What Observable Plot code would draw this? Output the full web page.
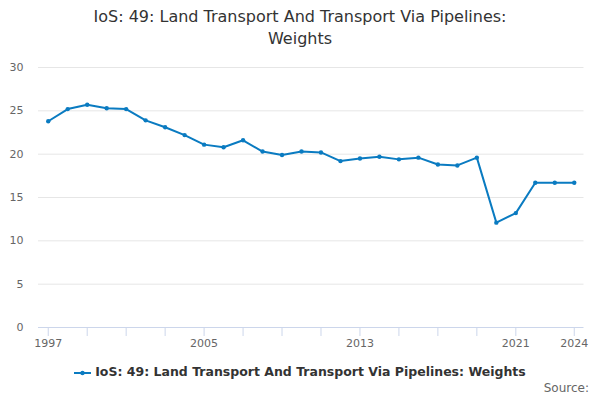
<!DOCTYPE html>
<html>
<head>
<meta charset="utf-8">
<script src="https://cdn.jsdelivr.net/npm/d3@7"></script>
<script src="https://cdn.jsdelivr.net/npm/@observablehq/plot@0.6"></script>
<style>
  body { margin: 0; background: #fff; font-family: "DejaVu Sans", sans-serif; }
  #wrap { position: relative; width: 600px; height: 400px; overflow: hidden; }
  #title { position: absolute; top: 6px; left: 0; width: 600px; text-align: center; font-size: 16px; line-height: 22px; color: #333; }
  #chart { position: absolute; top: 55px; left: 0; }
  #legend { position: absolute; top: 364px; left: 0; width: 600px; text-align: center; font-size: 12.5px; font-weight: bold; color: #333; }
  #legend svg { vertical-align: -1px; margin-right: 4px; }
  #source { position: absolute; top: 381px; right: 11px; font-size: 12px; color: #666; }
</style>
</head>
<body>
<div id="wrap">
  <div id="title">IoS: 49: Land Transport And Transport Via Pipelines:<br>Weights</div>
  <div id="chart"></div>
  <div id="legend"></div>
  <div id="source">Source:</div>
</div>
<script>
const seriesName = "IoS: 49: Land Transport And Transport Via Pipelines: Weights";
const years = [1997,1998,1999,2000,2001,2002,2003,2004,2005,2006,2007,2008,2009,2010,2011,2012,2013,2014,2015,2016,2017,2018,2019,2020,2021,2022,2023,2024];
const values = [23.8,25.2,25.7,25.3,25.2,23.9,23.1,22.2,21.1,20.8,21.6,20.3,19.9,20.3,20.2,19.2,19.5,19.7,19.4,19.6,18.8,18.7,19.6,12.1,13.2,16.7,16.7,16.7];
const xTicks = [1997,1999,2001,2003,2005,2007,2009,2011,2013,2015,2017,2019,2021,2024];
const xLabels = [1997,2005,2013,2021,2024];
const yTicks = [0,5,10,15,20,25,30];
const color = "#0a7bc1";

const data = years.map((y, i) => ({year: y, value: values[i]}));

const plot = Plot.plot({
  width: 600,
  height: 300,
  marginLeft: 38,
  marginRight: 16.5,
  marginTop: 12,
  marginBottom: 28,
  style: {fontFamily: "DejaVu Sans, sans-serif", fontSize: "11px", color: "#666", background: "transparent", overflow: "visible"},
  x: {domain: [1996.5, 2024.5], label: null},
  y: {domain: [0, 30], label: null},
  marks: [
    Plot.ruleY(yTicks.filter(d => d > 0), {stroke: "#e6e6e6", strokeWidth: 1}),
    Plot.axisY(yTicks, {tickSize: 0, tickPadding: 15, fill: "#666", fontSize: 11, label: null}),
    Plot.axisX(xTicks, {tickSize: 9, stroke: "#ccd6eb", strokeOpacity: 1, tickFormat: d => xLabels.includes(d) ? String(d) : "", tickPadding: 3, fill: "#666", fontSize: 11, label: null}),
    Plot.ruleY([0], {stroke: "#ccd6eb", strokeWidth: 1}),
    Plot.line(data, {x: "year", y: "value", stroke: color, strokeWidth: 2}),
    Plot.dot(data, {x: "year", y: "value", fill: color, r: 2.2, stroke: "none"})
  ]
});
document.getElementById("chart").appendChild(plot);

document.getElementById("legend").innerHTML =
  `<svg width="17" height="8"><line x1="0" y1="4" x2="17" y2="4" stroke="${color}" stroke-width="2"/><circle cx="8.5" cy="4" r="2.2" fill="${color}"/></svg>` + seriesName;
</script>
</body>
</html>
